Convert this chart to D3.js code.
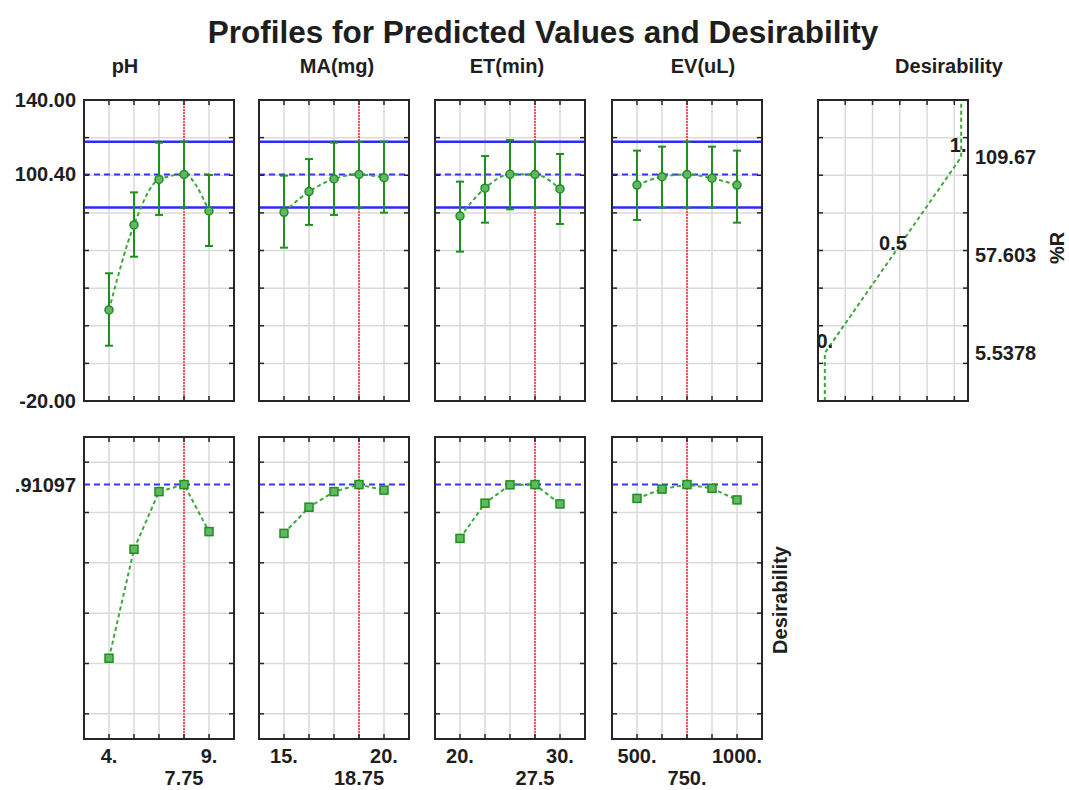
<!DOCTYPE html>
<html>
<head>
<meta charset="utf-8">
<script src="https://cdn.jsdelivr.net/npm/d3@7"></script>
<style>
  body { margin: 0; background: #fff; }
  text { font-family: "Liberation Sans", Arial, sans-serif; font-weight: bold; fill: #1e1e1e; }
</style>
</head>
<body>
<div id="chart"></div>
<script>
// factor levels (5 per factor) and the current setting
var phLevels = [4, 5.25, 6.5, 7.75, 9];
var maLevels = [15, 16.25, 17.5, 18.75, 20];
var etLevels = [20, 22.5, 25, 27.5, 30];
var evLevels = [500, 625, 750, 875, 1000];
var factorNames = ["pH", "MA(mg)", "ET(min)", "EV(uL)"];
var currentValues = [7.75, 18.75, 27.5, 750];
var currentLabels = ["7.75", "18.75", "27.5", "750."];
var endTickLabels = [["4.", "9."], ["15.", "20."], ["20.", "30."], ["500.", "1000."]];

// predicted %R with confidence limits
var phPred = [28.4, 73.6, 97.8, 100.4, 81.0];
var phLow  = [9.4, 56.7, 78.9, 82.8, 62.4];
var phHigh = [47.9, 90.9, 117.3, 117.8, 100.1];
var maPred = [80.3, 91.3, 98.0, 100.4, 98.7];
var maLow  = [61.5, 73.6, 78.9, 82.8, 80.1];
var maHigh = [99.8, 108.6, 117.3, 117.8, 117.8];
var etPred = [78.3, 93.1, 100.5, 100.4, 92.7];
var etLow  = [59.4, 74.8, 81.9, 82.8, 74.1];
var etHigh = [96.6, 110.2, 118.7, 117.8, 111.3];
var evPred = [94.8, 99.2, 100.4, 98.4, 94.8];
var evLow  = [76.2, 82.8, 82.8, 82.8, 74.8];
var evHigh = [113.1, 115.2, 117.8, 115.2, 113.1];

// desirability at each level
var phDes = [0.221, 0.654, 0.883, 0.911, 0.724];
var maDes = [0.717, 0.821, 0.883, 0.911, 0.889];
var etDes = [0.697, 0.837, 0.910, 0.911, 0.834];
var evDes = [0.856, 0.893, 0.911, 0.896, 0.850];

// optimum prediction and its limits
var predOpt = 100.40, predLowOpt = 82.8, predHighOpt = 117.8;
var desOpt = 0.91097;

// desirability function for %R
var desFnD = [0, 0, 0.5, 1, 1];
var desFnR = [-20, 5.5378, 57.603, 109.67, 140];
var desPointD = [0, 0.5, 1];
var desPointR = [5.5378, 57.603, 109.67];
var desPointLabels = ["0.", "0.5", "1."];
var desPanelGrid = [0.15, 0.35, 0.55, 0.75, 0.95];

var topTickValues = [140, 100.40, -20];
var topTickLabels = ["140.00", "100.40", "-20.00"];

var factors = [
  {levels: phLevels, pred: phPred, low: phLow, high: phHigh, des: phDes},
  {levels: maLevels, pred: maPred, low: maLow, high: maHigh, des: maDes},
  {levels: etLevels, pred: etPred, low: etLow, high: etHigh, des: etDes},
  {levels: evLevels, pred: evPred, low: evLow, high: evHigh, des: evDes}
];

var W = 1069, H = 790;
var svg = d3.select("#chart").append("svg").attr("width", W).attr("height", H);

var pw = 150, topY = 100, topH = 301, botY = 437, botH = 302;
var panelLeft = [84, 259, 435, 612];
var headerX = [125, 337, 507, 703];
var desLeft = 818;

var yTop = d3.scaleLinear().domain([-20, 140]).range([topY + topH, topY]);
var yBot = d3.scaleLinear().domain([-0.1, 1.1]).range([botY + botH, botY]);
var topGrid = yTop.ticks(8).filter(function(v) { return v > -20 && v < 140; });
var botGrid = [0, 0.2, 0.4, 0.6, 0.8, 1.0];

var green = "#1f8f1f", lightGreen = "#3aa83a";

function drawFrame(g, x, y, xs, ys) {
  var x0 = x.range()[0], x1 = x.range()[1];
  var y0 = y.range()[1], y1 = y.range()[0];
  g.append("rect").attr("x", x0).attr("y", y0).attr("width", x1 - x0).attr("height", y1 - y0)
    .attr("fill", "none").attr("stroke", "#262626").attr("stroke-width", 2);
  // small inward ticks on each side
  xs.forEach(function(v) {
    g.append("line").attr("x1", x(v)).attr("x2", x(v)).attr("y1", y0).attr("y2", y0 + 5).attr("stroke", "#262626").attr("stroke-width", 1.5);
    g.append("line").attr("x1", x(v)).attr("x2", x(v)).attr("y1", y1).attr("y2", y1 - 5).attr("stroke", "#262626").attr("stroke-width", 1.5);
  });
  ys.forEach(function(v) {
    g.append("line").attr("x1", x0).attr("x2", x0 + 5).attr("y1", y(v)).attr("y2", y(v)).attr("stroke", "#262626").attr("stroke-width", 1.5);
    g.append("line").attr("x1", x1).attr("x2", x1 - 5).attr("y1", y(v)).attr("y2", y(v)).attr("stroke", "#262626").attr("stroke-width", 1.5);
  });
}

function drawGrid(g, x, y, xs, ys) {
  var x0 = x.range()[0], x1 = x.range()[1];
  var y0 = y.range()[1], y1 = y.range()[0];
  g.selectAll(".gv").data(xs).enter().append("line")
    .attr("x1", function(d) { return x(d); }).attr("x2", function(d) { return x(d); })
    .attr("y1", y0).attr("y2", y1).attr("stroke", "#dadada").attr("stroke-width", 1.5);
  g.selectAll(".gh").data(ys).enter().append("line")
    .attr("x1", x0).attr("x2", x1)
    .attr("y1", function(d) { return y(d); }).attr("y2", function(d) { return y(d); })
    .attr("stroke", "#dadada").attr("stroke-width", 1.5);
}

function hline(g, x, yv, color, dash, w) {
  g.append("line").attr("x1", x.range()[0]).attr("x2", x.range()[1])
    .attr("y1", yv).attr("y2", yv).attr("stroke", color).attr("stroke-width", w)
    .attr("stroke-dasharray", dash);
}

factors.forEach(function(f, i) {
  var step = f.levels[1] - f.levels[0];
  var x = d3.scaleLinear()
    .domain([f.levels[0] - step, f.levels[f.levels.length - 1] + step])
    .range([panelLeft[i], panelLeft[i] + pw]);

  // ---- top panel: predicted %R
  var gt = svg.append("g");
  drawGrid(gt, x, yTop, f.levels, topGrid);
  hline(gt, x, yTop(predHighOpt), "#2b2bff", null, 2.5);
  hline(gt, x, yTop(predLowOpt), "#2b2bff", null, 2.5);
  hline(gt, x, yTop(predOpt), "#3535ff", "6,4", 2);
  gt.append("line").attr("x1", x(currentValues[i])).attr("x2", x(currentValues[i]))
    .attr("y1", topY).attr("y2", topY + topH).attr("stroke", "#ff2a2a").attr("stroke-width", 1.5).attr("stroke-dasharray", "2,1");

  f.levels.forEach(function(lv, j) {
    var cx = x(lv);
    gt.append("line").attr("x1", cx).attr("x2", cx).attr("y1", yTop(f.low[j])).attr("y2", yTop(f.high[j]))
      .attr("stroke", green).attr("stroke-width", 2);
    [f.low[j], f.high[j]].forEach(function(v) {
      gt.append("line").attr("x1", cx - 4).attr("x2", cx + 4).attr("y1", yTop(v)).attr("y2", yTop(v))
        .attr("stroke", green).attr("stroke-width", 2);
    });
  });

  var lineTop = d3.line().curve(d3.curveMonotoneX)
    .x(function(d, j) { return x(f.levels[j]); })
    .y(function(d) { return yTop(d); });
  gt.append("path").attr("d", lineTop(f.pred)).attr("fill", "none")
    .attr("stroke", lightGreen).attr("stroke-width", 2).attr("stroke-dasharray", "4,3");
  gt.selectAll(".pt").data(f.pred).enter().append("circle")
    .attr("cx", function(d, j) { return x(f.levels[j]); })
    .attr("cy", function(d) { return yTop(d); })
    .attr("r", 4).attr("fill", "#62b862").attr("stroke", green).attr("stroke-width", 1.5);
  drawFrame(gt, x, yTop, f.levels, topGrid);

  // ---- bottom panel: desirability
  var gb = svg.append("g");
  drawGrid(gb, x, yBot, f.levels, botGrid);
  hline(gb, x, yBot(desOpt), "#3535ff", "6,4", 2);
  gb.append("line").attr("x1", x(currentValues[i])).attr("x2", x(currentValues[i]))
    .attr("y1", botY).attr("y2", botY + botH).attr("stroke", "#ff2a2a").attr("stroke-width", 1.5).attr("stroke-dasharray", "2,1");
  var lineBot = d3.line()
    .x(function(d, j) { return x(f.levels[j]); })
    .y(function(d) { return yBot(d); });
  gb.append("path").attr("d", lineBot(f.des)).attr("fill", "none")
    .attr("stroke", lightGreen).attr("stroke-width", 2).attr("stroke-dasharray", "4,3");
  gb.selectAll(".sq").data(f.des).enter().append("rect")
    .attr("x", function(d, j) { return x(f.levels[j]) - 4; })
    .attr("y", function(d) { return yBot(d) - 4; })
    .attr("width", 8).attr("height", 8)
    .attr("fill", "#62b862").attr("stroke", green).attr("stroke-width", 1.5);
  drawFrame(gb, x, yBot, f.levels, botGrid);

  // x tick labels
  var ends = [f.levels[0], f.levels[f.levels.length - 1]];
  ends.forEach(function(v, k) {
    svg.append("text").attr("x", x(v)).attr("y", 763).attr("text-anchor", "middle")
      .attr("font-size", 20).text(endTickLabels[i][k]);
  });
  svg.append("text").attr("x", x(currentValues[i])).attr("y", 785).attr("text-anchor", "middle")
    .attr("font-size", 20).text(currentLabels[i]);

  // column header
  svg.append("text").attr("x", headerX[i]).attr("y", 73).attr("text-anchor", "middle")
    .attr("font-size", 20).text(factorNames[i]);
});

// ---- desirability function panel (top right)
var xD = d3.scaleLinear().domain([-0.05, 1.05]).range([desLeft, desLeft + pw]);
var gd = svg.append("g");
drawGrid(gd, xD, yTop, desPanelGrid, topGrid);
var lineD = d3.line()
  .x(function(d, j) { return xD(desFnD[j]); })
  .y(function(d) { return yTop(d); });
gd.append("path").attr("d", lineD(desFnR)).attr("fill", "none")
  .attr("stroke", lightGreen).attr("stroke-width", 2).attr("stroke-dasharray", "4,3");
desPointD.forEach(function(d, k) {
  gd.append("text").attr("x", xD(d) - (k === 2 ? 3 : 0)).attr("y", yTop(desPointR[k]) - 5)
    .attr("text-anchor", "middle").attr("font-size", 20).text(desPointLabels[k]);
});
drawFrame(gd, xD, yTop, desPanelGrid, topGrid);
desPointR.forEach(function(v) {
  svg.append("text").attr("x", 975).attr("y", yTop(v)).attr("dy", "0.35em")
    .attr("font-size", 20).text(v === 5.5378 ? "5.5378" : (v === 57.603 ? "57.603" : "109.67"));
});
svg.append("text").attr("x", 949).attr("y", 73).attr("text-anchor", "middle")
  .attr("font-size", 20).text("Desirability");

// left value labels
topTickValues.forEach(function(v, k) {
  svg.append("text").attr("x", 76).attr("y", yTop(v)).attr("dy", "0.35em")
    .attr("text-anchor", "end").attr("font-size", 20).text(topTickLabels[k]);
});
svg.append("text").attr("x", 76).attr("y", yBot(desOpt)).attr("dy", "0.35em")
  .attr("text-anchor", "end").attr("font-size", 20).text(".91097");

// rotated axis titles
svg.append("text").attr("transform", "translate(1064,248) rotate(-90)")
  .attr("text-anchor", "middle").attr("font-size", 20).text("%R");
svg.append("text").attr("transform", "translate(787,600) rotate(-90)")
  .attr("text-anchor", "middle").attr("font-size", 20).text("Desirability");

// title
svg.append("text").attr("x", 543).attr("y", 43).attr("text-anchor", "middle")
  .attr("font-size", 31.5).text("Profiles for Predicted Values and Desirability");
</script>
</body>
</html>
